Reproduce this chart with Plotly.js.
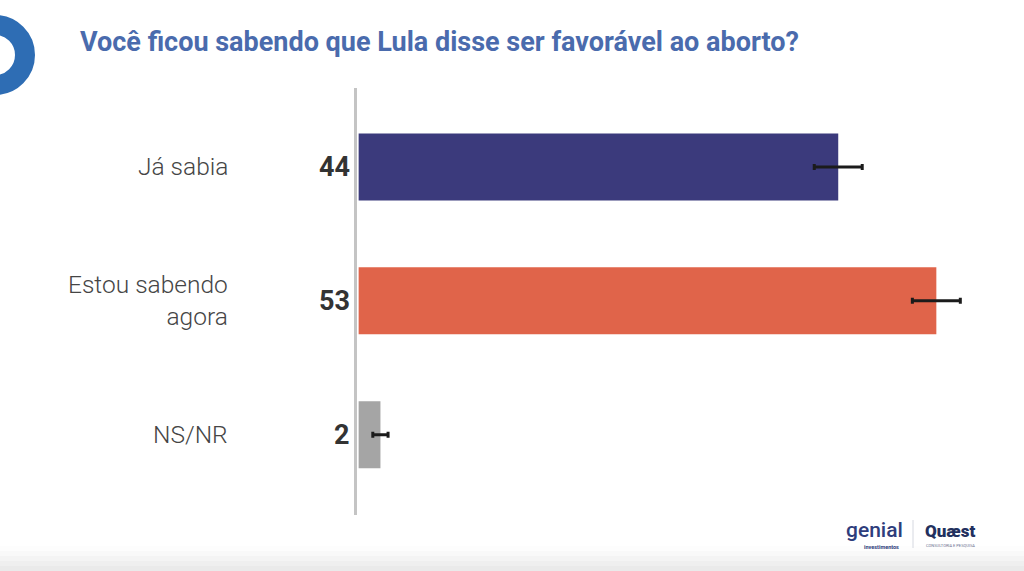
<!DOCTYPE html>
<html>
<head>
<meta charset="utf-8">
<script src="https://cdn.plot.ly/plotly-3.0.1.min.js"></script>
<style>html,body{margin:0;padding:0;background:#fff;}#chart{width:1024px;height:571px;}</style>
</head>
<body>
<div id="chart"></div>
<script>
// ---- data ----
const categories = ["Já sabia", "Estou sabendo<br>agora", "NS/NR"];
const values = [44, 53, 2];
const errors = [2.2, 2.2, 0.7];
const barColors = ["#3b3a7c", "#e0644a", "#a5a5a5"];
const titleText = "Você ficou sabendo que Lula disse ser favorável ao aborto?";

// ---- layout helpers (pixel -> paper) ----
const W = 1024, H = 571;
const L = 357, R = 17, T = 88, B = 56;
const PW = W - L - R, PH = H - T - B;
const px = x => (x - L) / PW;
const py = y => (H - B - y) / PH;

const trace = {
  type: "bar",
  orientation: "h",
  x: values,
  y: categories,
  width: 0.5,
  marker: {color: barColors},
  error_x: {type: "data", array: errors, visible: true, color: "#1b1b1b", thickness: 3, width: 3},
  hoverinfo: "none"
};

const annotations = [];
categories.forEach((c, i) => {
  annotations.push({
    xref: "paper", yref: "y", x: px(230), y: c, xanchor: "right", yanchor: "middle",
    text: c, showarrow: false, align: "right",
    font: {family: "Roboto", size: 24.5, color: "#454545", weight: 300}
  });
  annotations.push({
    xref: "paper", yref: "y", x: px(352), y: c, xanchor: "right", yanchor: "middle",
    text: String(values[i]), showarrow: false,
    font: {family: "Roboto", size: 27, color: "#333333", weight: 700}
  });
});
// logos as text
annotations.push({xref:"paper", yref:"paper", x: px(844), y: py(530), xanchor:"left", yanchor:"middle",
  text:"genial", showarrow:false, font:{family:"Roboto", size:21, color:"#2e3d7c", weight:500}});
annotations.push({xref:"paper", yref:"paper", x: px(901), y: py(547), xanchor:"right", yanchor:"middle",
  text:"investimentos", showarrow:false, font:{family:"Roboto", size:5.5, color:"#2e3d7c", weight:700}});
annotations.push({xref:"paper", yref:"paper", x: px(923), y: py(531), xanchor:"left", yanchor:"middle",
  text:"Quæst", showarrow:false, font:{family:"Roboto", size:17, color:"#22305e", weight:900}});
annotations.push({xref:"paper", yref:"paper", x: px(924), y: py(545), xanchor:"left", yanchor:"middle",
  text:"CONSULTORIA E PESQUISA", showarrow:false, font:{family:"Roboto", size:4, color:"#6a7090"}});

const shapes = [
  // decorative ring top-left
  {type:"circle", xref:"paper", yref:"paper", x0:px(-35), x1:px(25), y0:py(85), y1:py(25),
   line:{color:"#2e6db4", width:20}, fillcolor:"rgba(0,0,0,0)", layer:"above"},
  // divider between logos
  {type:"line", xref:"paper", yref:"paper", x0:px(913), x1:px(913), y0:py(520), y1:py(548),
   line:{color:"#d5d8e0", width:1}}
];
// bottom grey gradient strip
const grads = ["#fdfdfd", "#f9f9f9", "#f4f4f4", "#efefef", "#eaeaea"];
grads.forEach((g, i) => {
  const y0 = 546 + i * 5;
  shapes.push({type:"rect", xref:"paper", yref:"paper", x0:px(0), x1:px(1024), y0:py(y0 + 5), y1:py(y0),
    line:{width:0}, fillcolor:g, layer:"below"});
});

const layout = {
  width: W, height: H,
  margin: {l: L, r: R, t: T, b: B, pad: 0},
  paper_bgcolor: "#ffffff", plot_bgcolor: "rgba(0,0,0,0)",
  showlegend: false,
  title: {
    text: "<b>" + titleText + "</b>",
    xref: "container", yref: "container",
    x: 80 / W, xanchor: "left", y: 1 - 42 / H, yanchor: "middle",
    font: {family: "Roboto", size: 27, color: "#4a6bad"}
  },
  xaxis: {range: [-0.15, PW / 10.9 - 0.15], visible: false, fixedrange: true},
  yaxis: {
    type: "category", categoryorder: "array", categoryarray: categories,
    range: [2.6, -0.59], showticklabels: false, ticks: "", showgrid: false, zeroline: false,
    showline: true, linecolor: "#c4c4c4", linewidth: 3
  },
  annotations: annotations,
  shapes: shapes
};

Plotly.newPlot("chart", [trace], layout, {displayModeBar: false, staticPlot: true});
</script>
</body>
</html>
